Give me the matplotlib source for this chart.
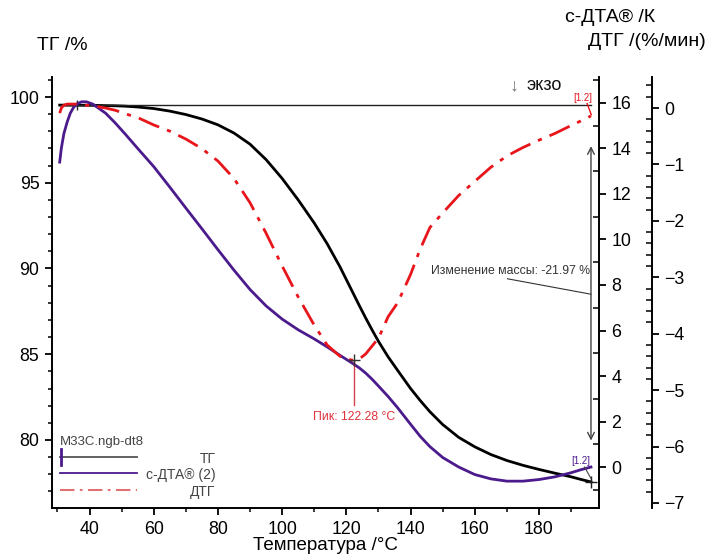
import matplotlib
matplotlib.use("Agg")
import matplotlib.pyplot as plt
from matplotlib.ticker import MultipleLocator

plt.rcParams['font.family'] = ['Liberation Sans', 'DejaVu Sans']

# temperature grid (°C)
temp = [30.7, 31.2, 32, 33, 34, 35, 36, 37.5, 39, 41, 43, 45, 48, 51, 55, 60, 65, 70,
        75, 80, 85, 90, 95, 100, 105, 110, 114, 118, 120, 122, 124, 126, 128, 130,
        133, 136, 140, 143, 146, 150, 155, 160, 165, 170, 175, 180, 185, 190, 193, 196.2]

# TG, %
tg = [99.53, 99.53, 99.53, 99.53, 99.53, 99.53, 99.53, 99.52, 99.52, 99.52, 99.51, 99.5,
      99.49, 99.47, 99.42, 99.33, 99.18, 98.98, 98.72, 98.38, 97.9, 97.25, 96.35, 95.25,
      94.0, 92.65, 91.45, 90.1, 89.35, 88.6, 87.85, 87.12, 86.42, 85.75, 84.85, 84.05,
      83.0, 82.3, 81.65, 80.9, 80.15, 79.6, 79.15, 78.8, 78.52, 78.28, 78.06, 77.85,
      77.7, 77.55]

# c-DTA, K
cdta = [13.4, 14.0, 14.65, 15.15, 15.55, 15.8, 15.95, 16.05, 16.05, 15.95, 15.75, 15.55,
        15.12, 14.65, 14.0, 13.2, 12.3, 11.38, 10.47, 9.55, 8.65, 7.8, 7.08, 6.5, 6.03,
        5.63, 5.28, 4.91, 4.73, 4.55, 4.36, 4.13, 3.86, 3.56, 3.1, 2.6, 1.88, 1.35, 0.9,
        0.42, 0.0, -0.33, -0.52, -0.62, -0.62, -0.55, -0.43, -0.25, -0.12, 0.0]

# DTG, %/min
dtg = [-0.09, 0.0, 0.05, 0.07, 0.07, 0.07, 0.07, 0.06, 0.05, 0.04, 0.02, 0.0, -0.04,
       -0.1, -0.17, -0.3, -0.41, -0.55, -0.72, -0.94, -1.25, -1.68, -2.22, -2.8, -3.35,
       -3.85, -4.2, -4.4, -4.45, -4.47, -4.45, -4.36, -4.22, -4.08, -3.7, -3.45, -2.95,
       -2.5, -2.12, -1.86, -1.55, -1.3, -1.05, -0.85, -0.7, -0.57, -0.45, -0.31, -0.23,
       -0.14]

peak_t = 122.28
peak_dtg = -4.47
mass_change = -21.97

C_TG = '#000000'
C_DTA = '#4b1a8c'
C_DTG = '#e8151b'
DASHDOT = (0, (8, 3, 1.5, 3))

W, H = 707, 554
fig = plt.figure(figsize=(W / 100, H / 100), dpi=100)
x0, x1, y0, y1 = 52, 599, 77, 508
ax = fig.add_axes([x0 / W, 1 - y1 / H, (x1 - x0) / W, (y1 - y0) / H])
ax2 = ax.twinx()
ax3 = ax.twinx()
ax3.spines['right'].set_position(('axes', (652 - x0) / (x1 - x0)))

for a in (ax, ax2, ax3):
    for s in a.spines.values():
        s.set_visible(False)
        s.set_linewidth(1.4)
ax.spines['left'].set_visible(True)
ax.spines['bottom'].set_visible(True)
ax2.spines['right'].set_visible(True)
ax3.spines['right'].set_visible(True)

ax.set_xlim(28.3, 198.7)
ax.set_ylim(76.03, 101.17)
ax2.set_ylim(-1.80, 17.14)
ax3.set_ylim(-7.09, 0.55)

ax.xaxis.set_major_locator(MultipleLocator(20))
ax.xaxis.set_minor_locator(MultipleLocator(10))
ax.yaxis.set_major_locator(MultipleLocator(5))
ax.yaxis.set_minor_locator(MultipleLocator(1))
ax2.yaxis.set_major_locator(MultipleLocator(2))
ax2.yaxis.set_minor_locator(MultipleLocator(1))
ax3.yaxis.set_major_locator(MultipleLocator(1))
ax3.yaxis.set_minor_locator(MultipleLocator(0.2))

ax.tick_params(which='major', direction='out', length=5, width=1.3, labelsize=12.8, pad=4)
ax.tick_params(which='minor', direction='out', length=3, width=1.1)
for a in (ax2, ax3):
    a.tick_params(which='major', direction='out', length=5, width=1.3, labelsize=12.8, pad=4)
    a.tick_params(which='minor', direction='in', length=4, width=1.1)

ax.set_xlabel('Температура /°C', fontsize=13.5, labelpad=0)

# curves
ax.plot(temp, tg, color=C_TG, lw=2)
ax2.plot(temp, cdta, color=C_DTA, lw=2)
ax3.plot(temp, dtg, color=C_DTG, lw=2, ls=DASHDOT)

# mass change reference line and arrow
ax.plot([temp[0], temp[-1]], [tg[0], tg[0]], color='#222', lw=1)
ax.plot([36], [tg[0]], marker='|', color='#222', ms=7)
ax.plot([temp[-1]], [tg[-1]], marker='+', color='#222', ms=8, mew=1)
ax.annotate('', xy=(196.2, 97.3), xytext=(196.2, 79.8),
            arrowprops=dict(arrowstyle='<->', color='#444', lw=1, mutation_scale=12))
ax.text(195.8, 89.85, f'Изменение массы: {mass_change:.2f} %', ha='right', va='center',
        fontsize=8.8, color='#333')
ax.plot([170.2, 196.2], [89.4, 88.5], color='#333', lw=0.8)

# DTG peak
ax3.plot([peak_t], [peak_dtg], marker='+', color='#333', ms=9, mew=1, zorder=5)
ax3.plot([peak_t, peak_t], [peak_dtg, -5.27], color='#d84050', lw=1)
ax3.text(peak_t, -5.48, f'Пик: {peak_t:.2f} °C', ha='center', va='center',
         fontsize=8.8, color='#e0303a')

# [1.2] marks
ax3.text(193.7, 0.18, '[1.2]', ha='center', va='center', fontsize=7, color=C_DTG)
ax3.plot([195.0, 196.3], [0.08, -0.12], color=C_DTG, lw=1)
ax2.text(193.0, 0.26, '[1.2]', ha='center', va='center', fontsize=7, color=C_DTA)
ax2.plot([194.2, 196.2], [0.0, -0.5], color='#444', lw=0.8)

# exo marker
fig.text(514 / W, 1 - 86 / H, '↓', ha='center', va='center', fontsize=13, color='#777')
fig.text(526 / W, 1 - 86 / H, 'экзо', ha='left', va='center', fontsize=13, color='#111')

# axis titles
fig.text(37 / W, 1 - 45 / H, 'ТГ /%', ha='left', va='center', fontsize=14)
fig.text(655 / W, 1 - 17 / H, 'с-ДТА® /К', ha='right', va='center', fontsize=14)
fig.text(706 / W, 1 - 42 / H, 'ДТГ /(%/мин)', ha='right', va='center', fontsize=14)

# legend drawn by hand
tr = ax.transAxes
ax.text(0.015, 0.153, 'M33C.ngb-dt8', transform=tr, ha='left', va='center',
        fontsize=9.5, color='#444')
legend_items = [('ТГ', '#555555', '-', 0.118),
                ('с-ДТА® (2)', C_DTA, '-', 0.081),
                ('ДТГ', '#e06060', DASHDOT, 0.042)]
for label, col, style, yy in legend_items:
    ax.plot([0.015, 0.156], [yy, yy], transform=tr, color=col, ls=style, lw=1.3)
    ax.text(0.299, yy - 0.005, label, transform=tr, ha='right', va='center',
            fontsize=10, color='#444')
ax.plot([0.017, 0.017], [0.136, 0.099], transform=tr, color=C_DTA, lw=2)

fig.savefig('out.png', dpi=100)
